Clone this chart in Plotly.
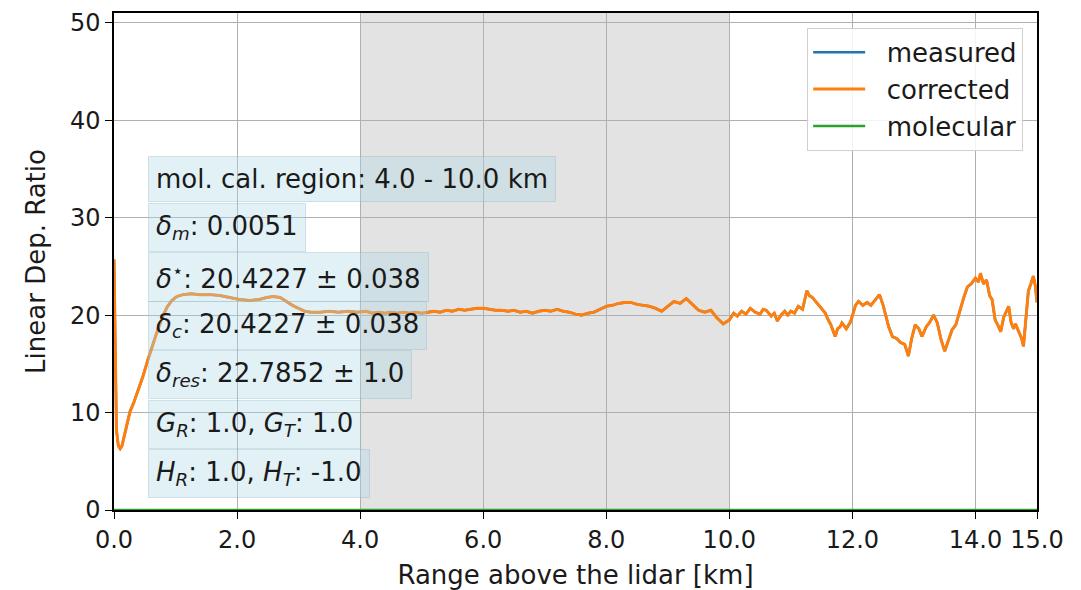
import plotly.graph_objects as go

# Range grid (km) and depolarisation ratio profiles
range_km = [
    0.00, 0.01, 0.02, 0.04, 0.07, 0.10, 0.13, 0.17, 0.21, 0.26, 0.32, 0.39, 0.47, 0.55,
    0.63, 0.70, 0.78, 0.86, 0.94, 1.02, 1.12, 1.25, 1.40, 1.56, 1.72, 1.88, 2.04, 2.21,
    2.36, 2.48, 2.59, 2.70, 2.80, 2.90, 3.00, 3.10, 3.20, 3.35, 3.50, 3.65, 3.80, 3.95,
    4.1, 4.2, 4.3, 4.4, 4.5, 4.6, 4.7, 4.8, 4.9, 5.0, 5.1, 5.2, 5.3, 5.4, 5.5, 5.6, 5.7,
    5.8, 5.9, 6.0, 6.1, 6.2, 6.3, 6.4, 6.5, 6.6, 6.7, 6.8, 6.9, 7.0, 7.1, 7.2, 7.3, 7.4,
    7.5, 7.6, 7.7, 7.8, 7.9, 8.0, 8.1, 8.2, 8.3, 8.4, 8.5, 8.6, 8.7, 8.8, 8.9, 9.0, 9.1,
    9.2, 9.3, 9.4, 9.5, 9.6, 9.7, 9.8, 9.9, 10.0,
    10.07, 10.13, 10.2, 10.27, 10.34, 10.42, 10.5, 10.55, 10.6, 10.68, 10.73, 10.78,
    10.84, 10.9, 10.95, 11.0, 11.06, 11.12, 11.19, 11.26, 11.3, 11.35, 11.43, 11.48,
    11.56, 11.6, 11.65, 11.72, 11.76, 11.8, 11.83, 11.9, 11.97, 12.05, 12.1, 12.17,
    12.24, 12.3, 12.38, 12.44, 12.5, 12.55, 12.59, 12.65, 12.72, 12.78, 12.85, 12.91,
    12.96, 13.02, 13.08, 13.13, 13.2, 13.26, 13.32, 13.38, 13.44, 13.5, 13.56, 13.62,
    13.68, 13.75, 13.81, 13.87, 13.93, 14.0, 14.05, 14.08, 14.13, 14.18, 14.23, 14.27,
    14.32, 14.37, 14.41, 14.46, 14.5, 14.54, 14.58, 14.62, 14.65, 14.7, 14.75, 14.78,
    14.82, 14.86, 14.9, 14.94, 14.97, 15.0,
]

corrected = [
    25.7, 20.5, 13.0, 8.2, 6.6, 6.3, 6.6, 7.6, 8.8, 10.1, 11.0, 12.2, 13.7, 15.4,
    17.0, 18.3, 19.7, 20.8, 21.5, 21.9, 22.1, 22.2, 22.1, 22.1, 22.0, 21.8, 21.6, 21.5,
    21.6, 21.8, 21.9, 21.8, 21.4, 21.0, 20.7, 20.4, 20.3, 20.3, 20.4, 20.3, 20.4, 20.3,
    20.4, 20.2, 20.3, 20.2, 20.3, 20.2, 20.3, 20.2, 20.3, 20.2, 20.3, 20.4, 20.3, 20.5,
    20.4, 20.6, 20.5, 20.6, 20.7, 20.7, 20.6, 20.5, 20.5, 20.4, 20.5, 20.3, 20.4, 20.2,
    20.4, 20.5, 20.4, 20.6, 20.4, 20.3, 20.1, 20.0, 20.2, 20.3, 20.6, 20.9, 21.0, 21.2,
    21.3, 21.3, 21.1, 21.0, 20.9, 20.7, 20.4, 20.9, 21.4, 21.2, 21.7, 21.1, 20.5, 20.3,
    20.5, 19.7, 19.1, 19.5,
    20.2, 19.9, 20.4, 20.1, 20.7, 20.3, 20.1, 20.6, 20.5, 19.9, 20.2, 19.4,
    20.0, 20.4, 20.0, 20.4, 20.2, 20.9, 20.6, 22.5, 22.0, 21.8, 21.2, 20.8,
    20.2, 19.6, 19.0, 17.8, 18.6, 18.8, 19.2, 18.6, 19.3, 21.0, 21.4, 21.0,
    21.3, 21.0, 21.6, 22.1, 21.0, 19.6, 18.8, 17.8, 17.6, 17.2, 17.0, 15.8,
    17.5, 19.0, 18.6, 17.8, 18.8, 19.3, 20.0, 19.2, 17.5, 16.3, 17.4, 18.5,
    19.0, 20.6, 21.8, 22.9, 23.2, 23.8, 23.4, 24.3, 23.2, 23.6, 22.0, 21.6,
    19.5, 18.9, 18.3, 19.8, 20.4, 20.9, 19.2, 18.6, 19.1, 18.4, 17.6, 16.8,
    19.5, 22.5, 23.2, 24.0, 23.1, 21.3,
]

measured = list(corrected)

molecular_range = [0.0, 15.0]
molecular = [0.0051, 0.0051]

x_ticks = [0, 2, 4, 6, 8, 10, 12, 14, 15]
x_tick_labels = ["0.0", "2.0", "4.0", "6.0", "8.0", "10.0", "12.0", "14.0", "15.0"]
y_ticks = [0, 10, 20, 30, 40, 50]

info_lines = [
    "mol. cal. region: 4.0 - 10.0 km",
    "<i>δ<sub>m</sub></i>: 0.0051",
    "<i>δ</i><sup>⋆</sup>: 20.4227 ± 0.038",
    "<i>δ<sub>c</sub></i>: 20.4227 ± 0.038",
    "<i>δ<sub>res</sub></i>: 22.7852 ± 1.0",
    "<i>G<sub>R</sub></i>: 1.0, <i>G<sub>T</sub></i>: 1.0",
    "<i>H<sub>R</sub></i>: 1.0, <i>H<sub>T</sub></i>: -1.0",
]

FONT = "DejaVu Sans"
TEXT = "#1a1a1a"
GAP = "\u00a0\u00a0"  # spacing between legend handle and label

fig = go.Figure()
fig.add_trace(go.Scatter(x=range_km, y=measured, mode="lines", name=GAP + "measured",
                         legendgroup="a", line=dict(color="#1f77b4", width=2.5)))
fig.add_trace(go.Scatter(x=range_km, y=corrected, mode="lines", name=GAP + "corrected",
                         legendgroup="b", line=dict(color="#ff7f0e", width=3)))
fig.add_trace(go.Scatter(x=molecular_range, y=molecular, mode="lines", name=GAP + "molecular",
                         legendgroup="c", line=dict(color="#2ca02c", width=2.5)))

# calibration window
fig.add_shape(type="rect", xref="x", yref="paper", x0=4.0, x1=10.0, y0=0, y1=1,
              fillcolor="#e3e3e3", line_width=0, layer="below")

text_y = [34.0, 29.0, 23.9, 18.9, 13.9, 8.8, 3.7]
for txt, yy in zip(info_lines, text_y):
    fig.add_annotation(x=0.56, y=yy, xref="x", yref="y", text=txt, showarrow=False,
                       xanchor="left", yanchor="middle", align="left",
                       font=dict(family=FONT, size=26, color=TEXT),
                       bgcolor="rgba(173,216,230,0.36)",
                       bordercolor="rgba(140,180,190,0.35)", borderwidth=1, borderpad=7)

axis_common = dict(
    showline=True, linecolor="black", linewidth=1.5, mirror=True,
    ticks="outside", ticklen=7, tickwidth=1.3, tickcolor="black",
    showgrid=True, gridcolor="#b0b0b0", gridwidth=1.3, zeroline=False,
    tickfont=dict(family=FONT, size=24, color=TEXT), automargin=False,
)

fig.update_xaxes(range=[0, 15], tickvals=x_ticks, ticktext=x_tick_labels,
                 title=dict(text="Range above the lidar [km]", standoff=15,
                            font=dict(family=FONT, size=26, color=TEXT)),
                 **axis_common)
fig.update_yaxes(range=[0, 51.0], tickvals=y_ticks,
                 title=dict(text="Linear Dep. Ratio", standoff=17,
                            font=dict(family=FONT, size=26, color=TEXT)),
                 **axis_common)

fig.update_layout(
    width=1081, height=590,
    margin=dict(l=114, r=44, t=13, b=80),
    paper_bgcolor="white", plot_bgcolor="white",
    font=dict(family=FONT, color=TEXT),
    legend=dict(x=0.985, y=0.97, xanchor="right", yanchor="top",
                bgcolor="rgba(255,255,255,0.85)", bordercolor="#d0d0d0", borderwidth=1,
                font=dict(family=FONT, size=26, color=TEXT), tracegroupgap=4,
                itemwidth=52, traceorder="normal"),
)

fig.write_html("out.html")
